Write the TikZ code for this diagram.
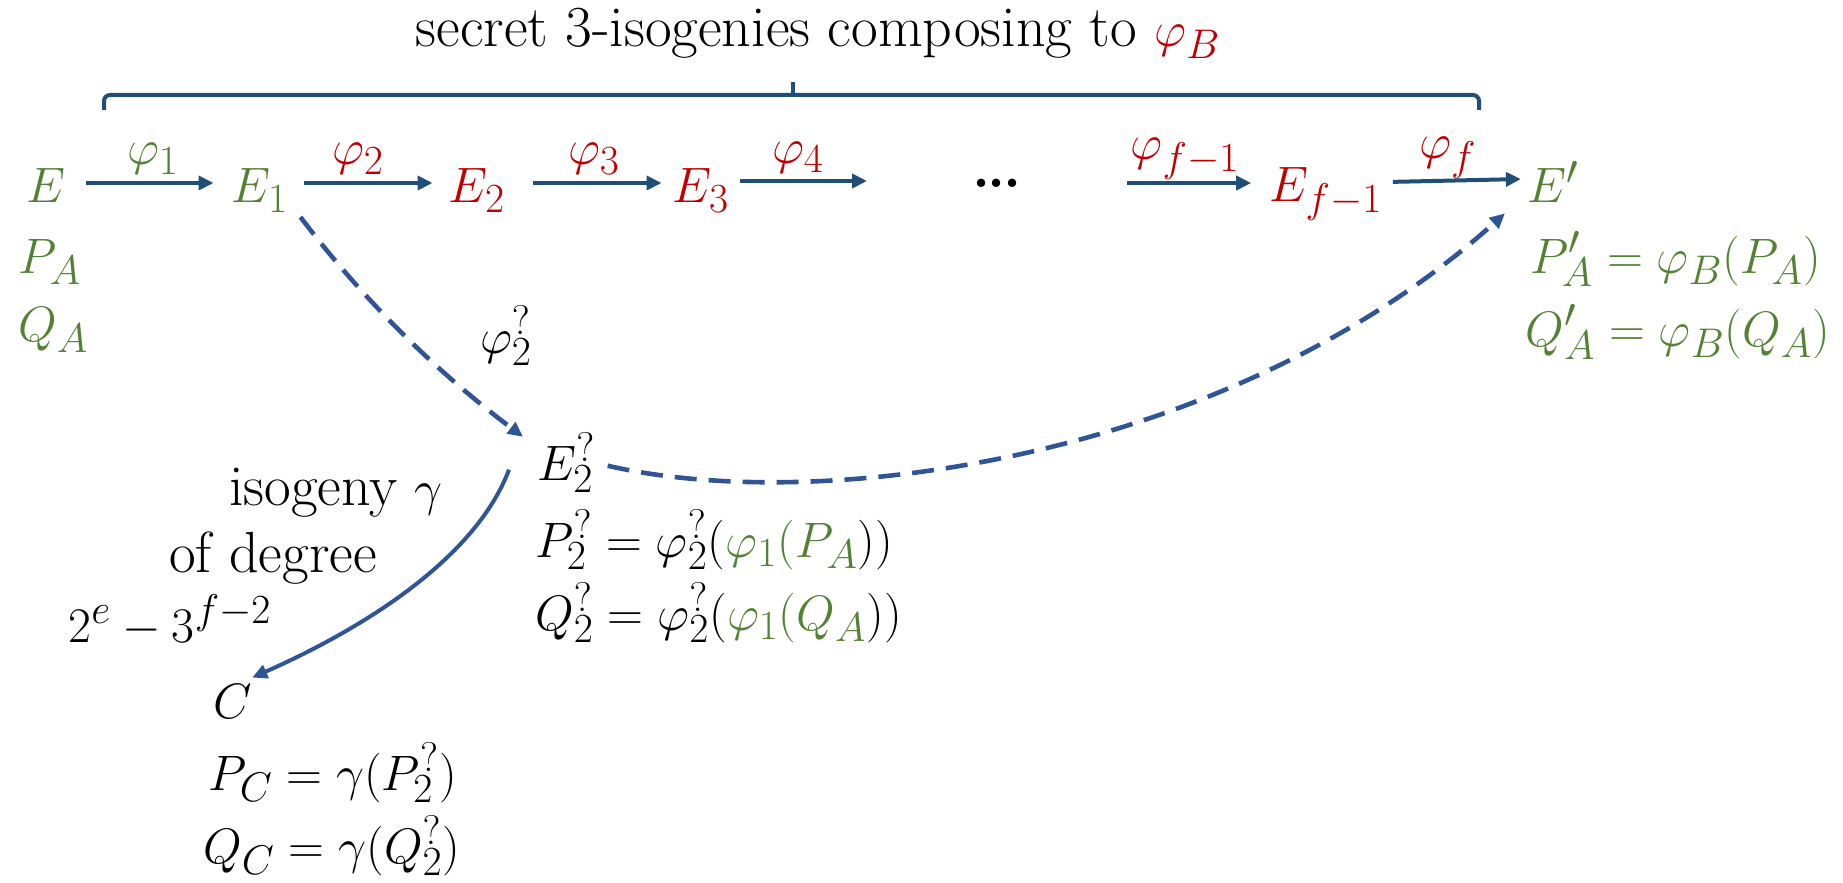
\documentclass[tikz,border=0pt]{standalone}
\usetikzlibrary{arrows.meta}
\definecolor{grn}{RGB}{84,130,53}
\definecolor{rd}{RGB}{192,0,0}
\definecolor{arrblue}{RGB}{31,78,121}
\definecolor{dshblue}{RGB}{47,85,151}
\begin{document}
\begin{tikzpicture}[x=0.5pt,y=-0.5pt,
  lbl/.style={font=\fontsize{29}{34}\selectfont, inner sep=2pt, anchor=base},
  lblw/.style={lbl, anchor=base west},
  ar/.style={draw=arrblue, line width=2pt, -{Triangle[length=7.5pt,width=7pt]}},
  dsh/.style={draw=dshblue, line width=2.3pt, dash pattern=on 11pt off 6pt, -{Triangle[length=7.5pt,width=7pt]}},
  gam/.style={draw=dshblue, line width=2pt, -{Triangle[length=7.5pt,width=7pt]}},
  brc/.style={draw=arrblue, line width=2pt, rounded corners=3pt},
]
\useasboundingbox (0,0) rectangle (1843,883);

% title and brace
\node[lbl] (title) at (818,47) {secret 3-isogenies composing to \textcolor{rd}{$\varphi_B$}};
\draw[brc] (104,110) -- (104,95) -- (1479,95) -- (1479,110);
\draw[brc] (793,95) -- (793,82);

% top row
\node[lbl,text=grn] (E) at (46,203) {$E$};
\node[lbl,text=grn] (E1) at (260,203) {$E_1$};
\node[lbl,text=rd] (E2) at (477,203) {$E_2$};
\node[lbl,text=rd] (E3) at (701,203) {$E_3$};
\node[lbl] (dots) at (997,188) {\textbf{.\kern-1.5pt.\kern-1.5pt.}};
\node[lbl,text=rd] (Ef1) at (1326,201) {$E_{f-1}$};
\node[lbl,text=grn] (Ep) at (1553,203) {$E'$};

\node[lbl,text=grn] (l1) at (153,165) {$\varphi_1$};
\node[lbl,text=rd] (l2) at (358,165) {$\varphi_2$};
\node[lbl,text=rd] (l3) at (594,165) {$\varphi_3$};
\node[lbl,text=rd] (l4) at (798,163) {$\varphi_4$};
\node[lbl,text=rd] (lf1) at (1185,160) {$\varphi_{f-1}$};
\node[lbl,text=rd] (lf) at (1448,159) {$\varphi_f$};

\coordinate (d4) at (867,181);
\coordinate (df) at (1127,183);

% points under E and E'
\node[lblw,text=grn] (PA) at (14,273) {$P_A$};
\node[lblw,text=grn] (QA) at (14,341) {$Q_A$};
\node[lblw,text=grn] (PpA) at (1526,273) {$P'_A = \varphi_B(P_A)$};
\node[lblw,text=grn] (QpA) at (1521,346) {$Q'_A = \varphi_B(Q_A)$};

% middle
\node[lbl] (phq) at (506,353) {$\varphi_2^{?}$};
\node[lblw] (E2q) at (533,480) {$E_2^{?}$};
\node[lblw] (P2q) at (531,557) {$P_2^{?} = \varphi_2^{?}(\textcolor{grn}{\varphi_1(P_A}))$};
\node[lblw] (Q2q) at (531,630) {$Q_2^{?} = \varphi_2^{?}(\textcolor{grn}{\varphi_1(Q_A}))$};

% bottom left
\node[lbl] (iso) at (336,505) {isogeny $\gamma$};
\node[lbl] (deg) at (273,572) {of degree};
\node[lbl] (pow) at (170,642) {$2^e - 3^{f-2}$};
\node[lblw] (C) at (209,718) {$C$};
\node[lblw] (PC) at (204,790) {$P_C = \gamma(P_2^{?})$};
\node[lblw] (QC) at (199,863) {$Q_C = \gamma(Q_2^{?})$};

% connectors
\draw[ar, shorten <=8pt, shorten >=7pt] (E.east |- 0,183) -- (E1.west |- 0,183);
\draw[ar, shorten <=6pt, shorten >=6pt] (E1.east |- 0,183) -- (E2.west |- 0,183);
\draw[ar, shorten <=12pt, shorten >=3.5pt] (E2.east |- 0,183) -- (E3.west |- 0,183);
\draw[ar, shorten <=3.5pt] (E3.east |- 0,181) -- (d4);
\draw[ar, shorten >=7pt] (df) -- (Ef1.west |- 0,183);
\draw[ar, shorten <=3pt, shorten >=1pt] (Ef1.east |- 0,182) -- (Ep.west |- 0,179);

\draw[dsh] ([xshift=4pt]E1.south east) .. controls (364,301) and (438,373) .. ([xshift=-5pt,yshift=-4pt]E2q.north west);
\draw[dsh] ([xshift=4pt,yshift=-1.5pt]E2q.east) .. controls (820,515) and (1230,460) .. ([xshift=-9pt,yshift=-3pt]Ep.south west);
\draw[gam] ([xshift=-12pt,yshift=-3.5pt]E2q.west) .. controls (475,560) and (360,630) .. ([xshift=-2pt,yshift=1pt]C.north east);
\end{tikzpicture}
\end{document}
